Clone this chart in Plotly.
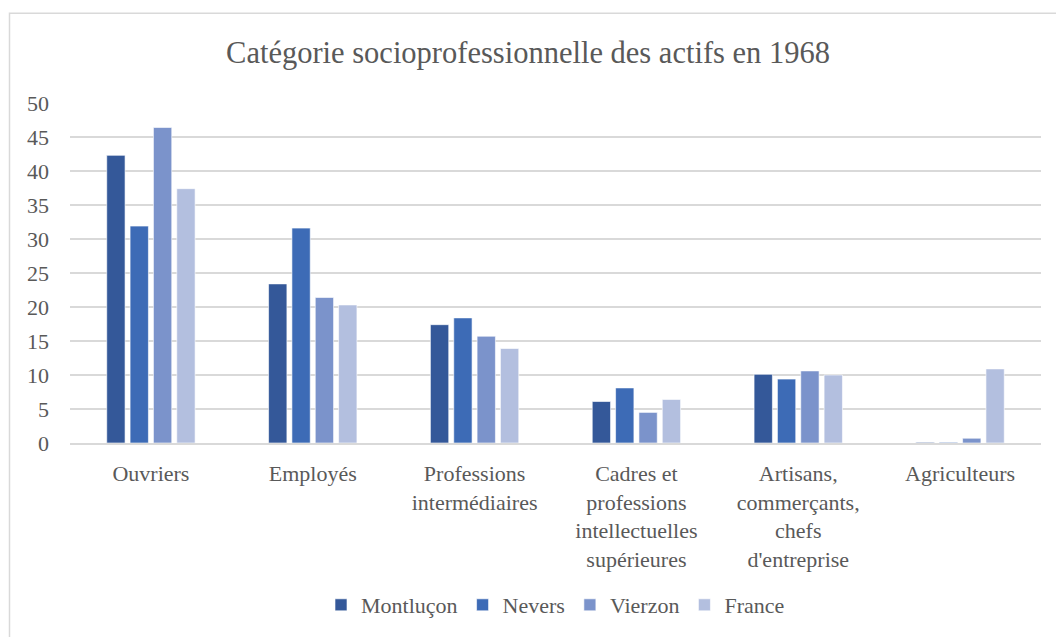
import plotly.graph_objects as go

categories = [
    "Ouvriers",
    "Employés",
    "Professions<br>intermédiaires",
    "Cadres et<br>professions<br>intellectuelles<br>supérieures",
    "Artisans,<br>commerçants,<br>chefs<br>d'entreprise",
    "Agriculteurs",
]
montlucon = [42.3, 23.4, 17.4, 6.1, 10.1, 0.1]
nevers = [31.9, 31.6, 18.4, 8.1, 9.4, 0.1]
vierzon = [46.4, 21.4, 15.7, 4.5, 10.6, 0.7]
france = [37.4, 20.3, 13.9, 6.4, 10.0, 10.9]

series = [
    ("Montluçon", montlucon, "#345899"),
    ("Nevers", nevers, "#3d6bb6"),
    ("Vierzon", vierzon, "#7b93cb"),
    ("France", france, "#b3bfdf"),
]

FONT = "Liberation Serif, Times New Roman, serif"
TEXT = "#595959"

fig = go.Figure()
for name, vals, color in series:
    fig.add_trace(go.Bar(
        x=categories, y=vals, name=name,
        marker=dict(color=color, line=dict(color="rgba(255,255,255,0.6)", width=1)),
    ))

fig.update_layout(
    width=1056, height=637,
    margin=dict(l=70, r=15, t=103, b=193),
    paper_bgcolor="white", plot_bgcolor="white",
    barmode="group", bargap=0.423, bargroupgap=0.215,
    font=dict(family=FONT, color=TEXT, size=22),
    title=dict(
        text="Catégorie socioprofessionnelle des actifs en 1968",
        x=0.5, xanchor="center", y=1 - 52 / 637, yanchor="middle",
        font=dict(family=FONT, size=30.5, color=TEXT),
    ),
    legend=dict(
        orientation="h", x=0.5, xanchor="center",
        y=(444 - 605) / 341, yanchor="middle",
        font=dict(family=FONT, size=22, color=TEXT),
        itemwidth=30, traceorder="normal",
    ),
    showlegend=True,
)
fig.update_yaxes(
    range=[0, 50], dtick=5, tick0=0,
    showgrid=True, gridcolor="#d9d9d9", gridwidth=1.5,
    zeroline=False, showline=False,
    ticks="", ticklabelstandoff=20,
    tickfont=dict(family=FONT, size=22, color=TEXT),
)
fig.update_xaxes(
    showline=True, linecolor="#d9d9d9", linewidth=1.5,
    ticks="", ticklabelstandoff=10,
    tickfont=dict(family=FONT, size=22, color=TEXT),
    tickangle=0,
)

# outer chart border
fig.add_shape(
    type="rect", xref="paper", yref="paper",
    x0=(9.5 - 70) / 971, x1=1.2, y0=-1.0, y1=1 + (103 - 13) / 341,
    line=dict(color="#d9d9d9", width=1.5), fillcolor="rgba(0,0,0,0)",
    layer="below",
)

fig.write_html("out.html")
